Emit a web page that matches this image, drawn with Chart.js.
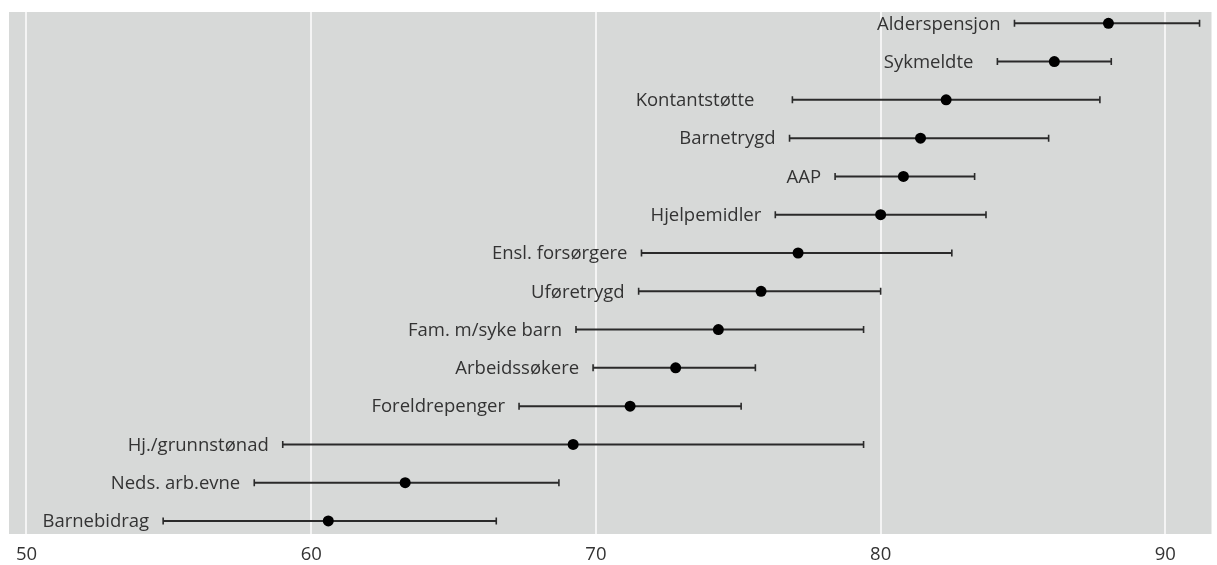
<!DOCTYPE html>
<html>
<head>
<meta charset="utf-8">
<script src="https://cdn.jsdelivr.net/npm/chart.js@4/dist/chart.umd.min.js"></script>
<style>
  html, body { margin: 0; padding: 0; background: #ffffff; }
  #wrap { position: relative; width: 1217px; height: 565px; }
</style>
</head>
<body>
<div id="wrap"><canvas id="chart"></canvas></div>
<script>
// Benefit groups, top to bottom
const categories = ['Alderspensjon', 'Sykmeldte', 'Kontantstøtte', 'Barnetrygd', 'AAP', 'Hjelpemidler',
  'Ensl. forsørgere', 'Uføretrygd', 'Fam. m/syke barn', 'Arbeidssøkere', 'Foreldrepenger',
  'Hj./grunnstønad', 'Neds. arb.evne', 'Barnebidrag'];
// Point estimates
const estimates = [88.0, 86.1, 82.3, 81.4, 80.8, 80.0, 77.1, 75.8, 74.3, 72.8, 71.2, 69.2, 63.3, 60.6];
// Interval bounds
const lower = [84.7, 84.1, 76.9, 76.8, 78.4, 76.3, 71.6, 71.5, 69.3, 69.9, 67.3, 59.0, 58.0, 54.8];
const upper = [91.2, 88.1, 87.7, 85.9, 83.3, 83.7, 82.5, 80.0, 79.4, 75.6, 75.1, 79.4, 68.7, 66.5];
// Axis ticks
const xTicks = [50, 60, 70, 80, 90];

const FONT = '"Open Sans", Lato, sans-serif';
const TEXT = '#333333';

// Grey panel behind the plot
const panelBg = {
  id: 'panelBg',
  beforeDraw(chart) {
    const { ctx, chartArea: a } = chart;
    ctx.save();
    ctx.fillStyle = '#d7d9d8';
    ctx.fillRect(a.left, a.top, a.right - a.left, a.bottom - a.top);
    ctx.restore();
  }
};

// Interval whiskers with end caps, plus a name label left of each interval
const intervals = {
  id: 'intervals',
  beforeDatasetsDraw(chart, args, opts) {
    const { ctx } = chart;
    const xs = chart.scales.x, ys = chart.scales.y;
    ctx.save();
    ctx.strokeStyle = '#2a2a2a';
    ctx.lineCap = 'butt';
    categories.forEach((name, i) => {
      const y = ys.getPixelForValue(i);
      const x0 = xs.getPixelForValue(lower[i]);
      const x1 = xs.getPixelForValue(upper[i]);
      ctx.lineWidth = 2;
      ctx.beginPath();
      ctx.moveTo(x0, y); ctx.lineTo(x1, y);
      ctx.stroke();
      ctx.lineWidth = 1.6;
      ctx.beginPath();
      ctx.moveTo(x0, y - 3.5); ctx.lineTo(x0, y + 3.5);
      ctx.moveTo(x1, y - 3.5); ctx.lineTo(x1, y + 3.5);
      ctx.stroke();

      const nudge = (opts.nudge && opts.nudge[name]) || 0;
      ctx.fillStyle = TEXT;
      ctx.font = opts.font;
      ctx.textAlign = 'right';
      ctx.textBaseline = 'middle';
      ctx.fillText(name, x0 - opts.gap - nudge, y + 1);
    });
    ctx.restore();
  }
};

new Chart(document.getElementById('chart'), {
  type: 'scatter',
  data: {
    datasets: [{
      data: categories.map((c, i) => ({ x: estimates[i], y: i })),
      backgroundColor: '#000000',
      borderColor: '#000000',
      borderWidth: 0,
      pointRadius: 5.5,
      pointHoverRadius: 5.5
    }]
  },
  options: {
    responsive: true,
    maintainAspectRatio: false,
    animation: false,
    events: [],
    layout: { padding: { left: 9, right: 4, top: 12, bottom: 0 } },
    plugins: {
      legend: { display: false },
      tooltip: { enabled: false },
      intervals: {
        gap: 14,
        font: '18.5px ' + FONT,
        nudge: { 'Sykmeldte': 10, 'Kontantstøtte': 24 }
      }
    },
    scales: {
      x: {
        type: 'linear',
        position: 'bottom',
        min: 49.386,
        max: 91.62,
        afterBuildTicks(scale) { scale.ticks = xTicks.map(v => ({ value: v })); },
        afterFit(scale) { scale.height = 31; },
        grid: { color: '#f4f4f4', lineWidth: 2, drawTicks: false },
        border: { display: false },
        ticks: {
          padding: 10,
          color: TEXT,
          font: { family: FONT, size: 18.5 },
          maxRotation: 0
        }
      },
      y: {
        type: 'linear',
        display: false,
        reverse: true,
        min: -0.295,
        max: 13.34
      }
    }
  },
  plugins: [panelBg, intervals]
});
</script>
</body>
</html>
